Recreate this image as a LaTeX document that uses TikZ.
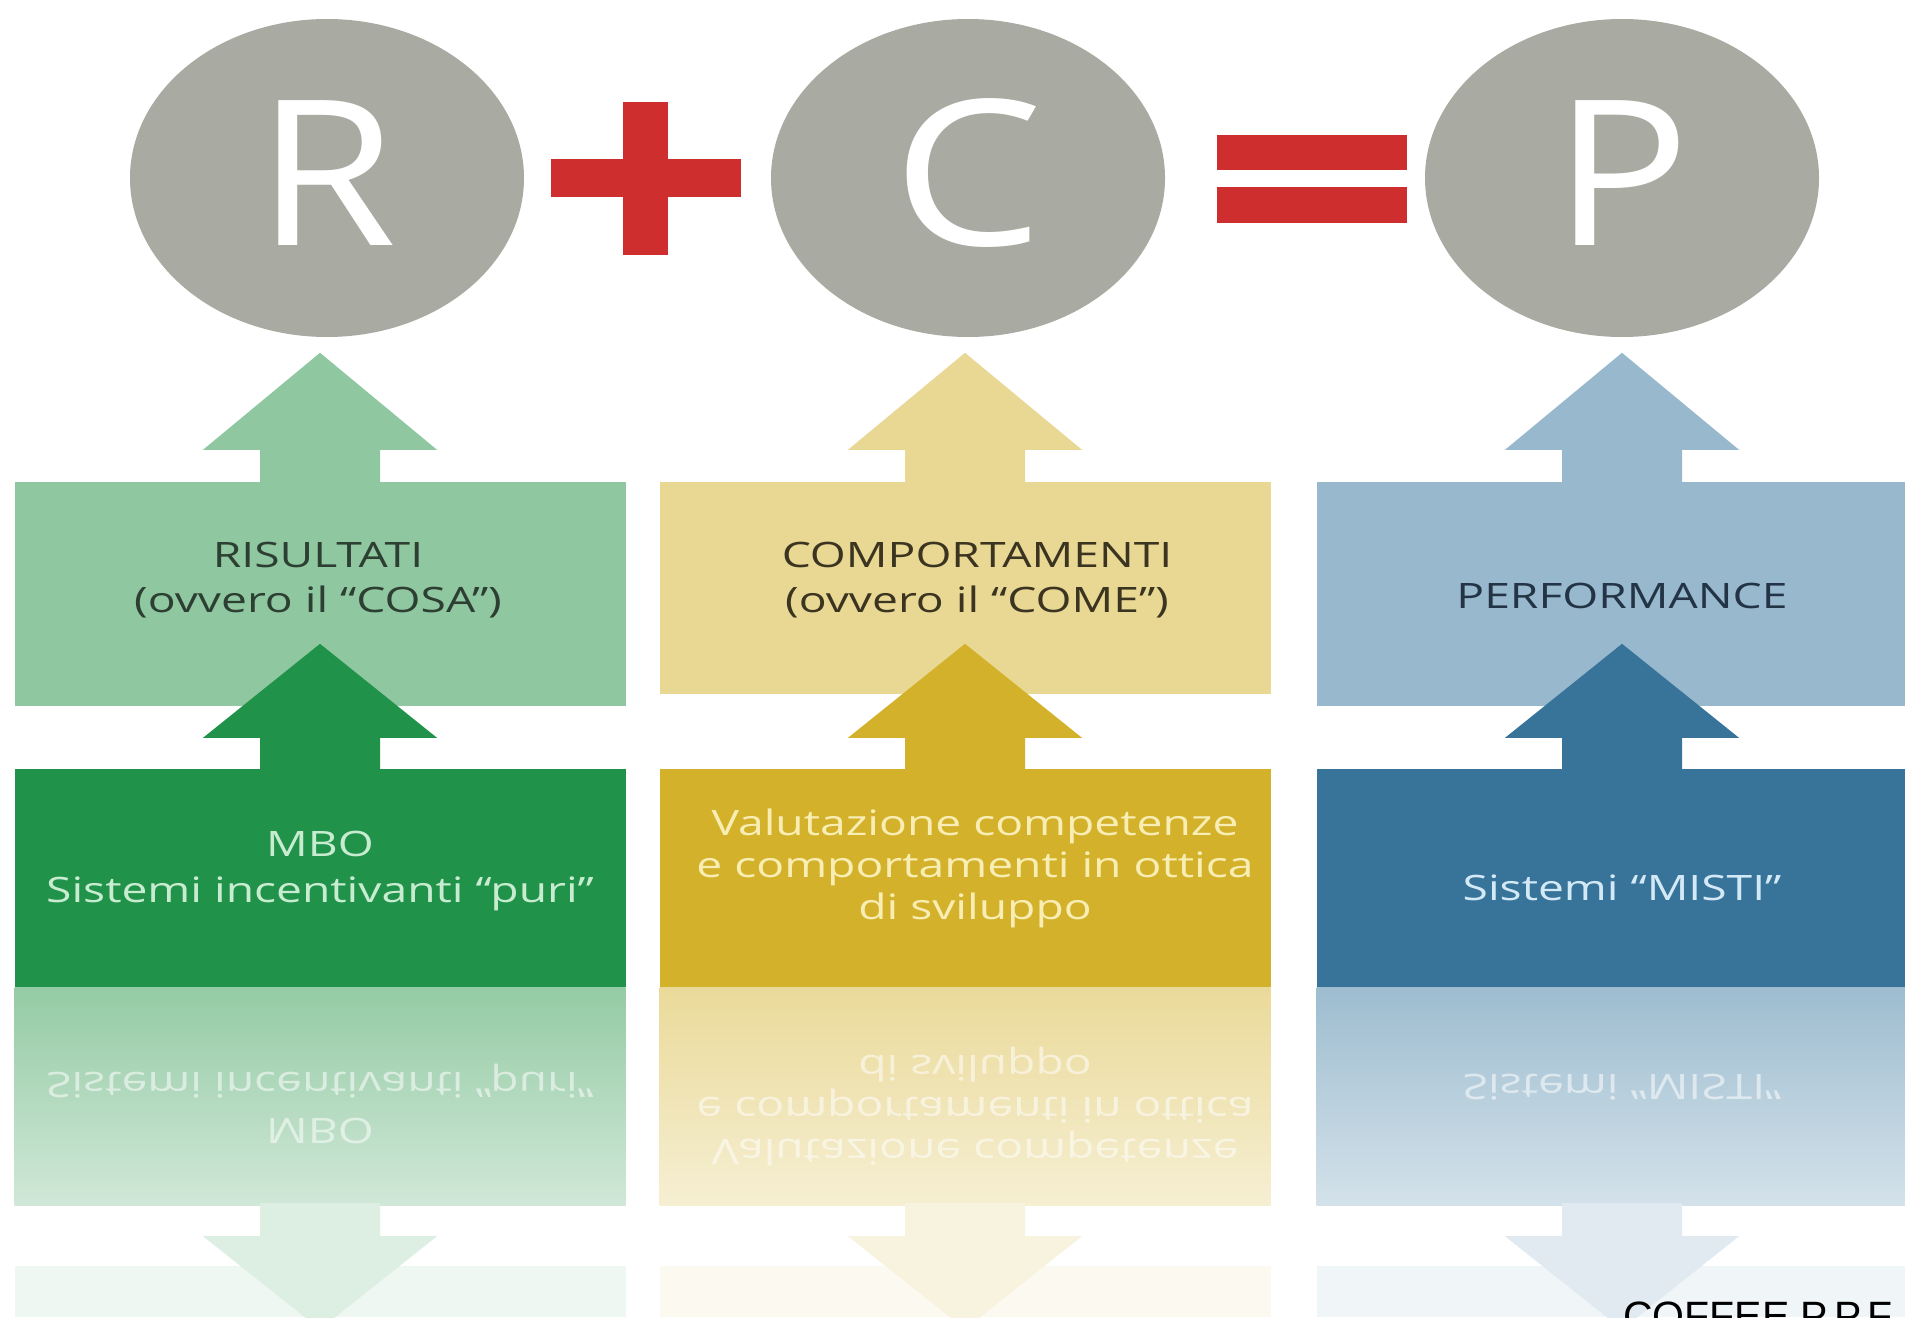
\documentclass[tikz,border=0pt]{standalone}
\usepackage{fontspec}
\setmainfont{Open Sans}
\newfontfamily\cofffont{Liberation Sans}
\usepackage{graphicx}
\usetikzlibrary{shapes.geometric}
\newcommand{\hs}[1]{\scalebox{1.32}[1]{#1}}
\newcommand{\hl}[1]{\scalebox{1.12}[1]{#1}}
\newcommand{\hflip}[1]{\scalebox{1.32}[-1]{#1}}
\definecolor{gry}{RGB}{169,170,161}
\definecolor{rd}{RGB}{207,46,46}
\definecolor{gL}{RGB}{143,200,160}
\definecolor{gD}{RGB}{33,146,74}
\definecolor{yL}{RGB}{233,216,148}
\definecolor{yD}{RGB}{212,177,42}
\definecolor{bL}{RGB}{152,185,205}
\definecolor{bD}{RGB}{56,116,153}
\definecolor{gT}{RGB}{45,62,50}
\definecolor{yT}{RGB}{58,52,32}
\definecolor{bT}{RGB}{35,52,70}
\definecolor{gW}{RGB}{200,236,208}
\definecolor{yW}{RGB}{248,238,180}
\definecolor{bW}{RGB}{212,233,246}
\tikzset{
  ell/.style={ellipse, fill=gry, draw=none, minimum width=394pt, minimum height=318pt, inner sep=0},
  letter/.style={anchor=base, inner sep=0, text=white, font=\fontsize{203}{203}\selectfont},
  plate/.style={rectangle, draw=none, inner sep=0, minimum width=611pt},
  toptxt/.style={anchor=base, inner sep=0, font=\fontsize{35}{35}\selectfont},
  bottxt/.style={anchor=base, inner sep=0, font=\fontsize{35}{35}\selectfont},
  mirtxt/.style={anchor=base, inner sep=0, font=\fontsize{35}{35}\selectfont, text=white, text opacity=0.55},
}
\begin{document}
\begin{tikzpicture}[x=1pt,y=-1pt]
\useasboundingbox (0,0) rectangle (1905,1317);
\clip (0,0) rectangle (1905,1317);
\fill[white] (0,0) rectangle (1905,1317);

% circles
\node[ell] (R) at (327,178) {};
\node[ell] (C) at (968,178) {};
\node[ell] (P) at (1622,178) {};
\node[letter] (Rl) at (R.center |- 0,245) {\hl{R}};
\node[letter] (Cl) at (C.center |- 0,245) {\scalebox{1.18}[1]{C}};
\node[letter] (Pl) at (P.center |- 0,245) {\hl{P}};

% plus and equals
\fill[rd] (551,159) rectangle (741,197);
\fill[rd] (623,102) rectangle (668,255);
\fill[rd] (1217,135) rectangle (1407,170);
\fill[rd] (1217,187) rectangle (1407,223);

% columns
\foreach \i/\cx/\L/\D/\tc/\th in {1/320/gL/gD/594/224, 2/965/yL/yD/588/212, 3/1622/bL/bD/594/224} {
  \node[plate, fill=\L, minimum height=\th pt] (top\i) at (\cx,\tc) {};
  \node[plate, fill=\D, minimum height=218pt] (bot\i) at (\cx,878) {};
  \node[plate, minimum height=218pt, top color=\L!95!white, bottom color=\L!42!white] (ref\i) at (\cx,1096) {};
  \fill[\L!14!white] (\cx-305.5,1266) rectangle (\cx+305.5,1317);
  % arrow from top box to circle
  \fill[\L, shift={(top\i.north)}] (-60,4) -- (-60,-32) -- (-117,-32) -- (0,-129) -- (117,-32) -- (60,-32) -- (60,4) -- cycle;
  % arrow from dark box into top box
  \fill[\D, shift={(bot\i.north)}] (-60,4) -- (-60,-31) -- (-117,-31) -- (0,-125) -- (117,-31) -- (60,-31) -- (60,4) -- cycle;
  % reflected arrow
  \fill[\L!30!white, shift={(ref\i.south)}] (-60,-2) -- (-60,31) -- (-117,31) -- (0,124) -- (117,31) -- (60,31) -- (60,-2) -- cycle;
}

% texts, column 1
\node[toptxt, text=gT] (t1a) at (318,567) {\hs{RISULTATI}};
\node[toptxt, text=gT] (t1b) at (318,612) {\hs{(ovvero il “COSA”)}};
\node[bottxt, text=gW] (b1a) at (320,856) {\hs{MBO}};
\node[bottxt, text=gW] (b1b) at (320,902) {\hs{Sistemi incentivanti “puri”}};
\node[mirtxt] (m1b) at (320,1072) {\hflip{Sistemi incentivanti “puri”}};
\node[mirtxt] (m1a) at (320,1118) {\hflip{MBO}};

% texts, column 2
\node[toptxt, text=yT] (t2a) at (977,567) {\hs{COMPORTAMENTI}};
\node[toptxt, text=yT] (t2b) at (977,612) {\hs{(ovvero il “COME”)}};
\node[bottxt, text=yW] (b2a) at (975,835) {\hs{Valutazione competenze}};
\node[bottxt, text=yW] (b2b) at (975,877) {\hs{e comportamenti in ottica}};
\node[bottxt, text=yW] (b2c) at (975,919) {\hs{di sviluppo}};
\node[mirtxt] (m2c) at (975,1055) {\hflip{di sviluppo}};
\node[mirtxt] (m2b) at (975,1097) {\hflip{e comportamenti in ottica}};
\node[mirtxt] (m2a) at (975,1139) {\hflip{Valutazione competenze}};

% texts, column 3
\node[toptxt, text=bT] (t3a) at (1622,608) {\hs{PERFORMANCE}};
\node[bottxt, text=bW] (b3a) at (1622,900) {\hs{Sistemi “MISTI”}};
\node[mirtxt] (m3a) at (1622,1074) {\hflip{Sistemi “MISTI”}};

% footer
\node[anchor=north west, inner sep=0, font=\cofffont\fontsize{41}{41}\selectfont] (coffee) at (1623,1302) {COFFEE P.P.F};
\end{tikzpicture}
\end{document}
